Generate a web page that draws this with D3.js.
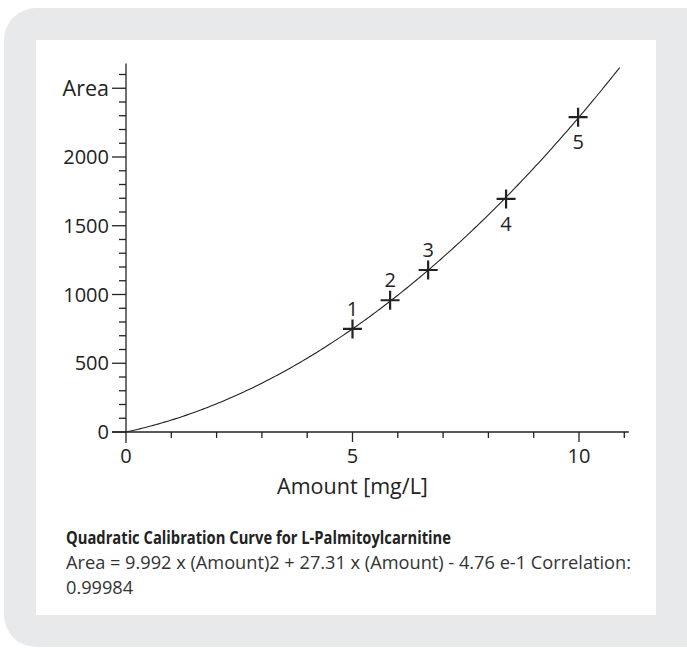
<!DOCTYPE html>
<html>
<head>
<meta charset="utf-8">
<script src="https://cdn.jsdelivr.net/npm/d3@7"></script>
<style>
  html, body { margin: 0; padding: 0; background: #fff; }
  svg { display: block; font-family: "Open Sans", "Noto Sans", sans-serif; }
</style>
</head>
<body>
<div id="root"></div>
<script>
// calibration points
const pointIds = ["1", "2", "3", "4", "5"];
const amounts = [5.0, 5.83, 6.67, 8.39, 9.98];
const areas = [750, 958, 1178, 1695, 2290];
const labelBelow = [false, false, false, true, true];
// fitted quadratic shown as the curve: a*x^2 + b*x + c
const fitCoef = [15.8, 71, 0];
const xTickLabels = [0, 5, 10];
const yTickLabels = [0, 500, 1000, 1500, 2000];

const W = 687, H = 648;
const svg = d3.select("#root").append("svg").attr("width", W).attr("height", H);

// outer grey card and inner white panel
svg.append("rect").attr("x", 4).attr("y", 8).attr("width", W + 30).attr("height", 639)
  .attr("rx", 32).attr("fill", "#e8e9eb");
svg.append("rect").attr("x", 36).attr("y", 40).attr("width", 620).attr("height", 575)
  .attr("fill", "#fff");

const x0 = 126, y0 = 432;
const x = d3.scaleLinear().domain([0, 11.1]).range([x0, x0 + 11.1 * 45.3]);
const y = d3.scaleLinear().domain([0, 2680]).range([y0, y0 - 2680 * 0.1375]);

const ink = "#222";
const fs = 20;
const g = svg.append("g");

// x axis: line + ticks every unit pointing down
g.append("line").attr("x1", x0 - 14).attr("x2", x(11.1)).attr("y1", y0).attr("y2", y0)
  .attr("stroke", ink).attr("stroke-width", 1.3);
d3.range(1, 12).forEach(v => {
  const major = v % 5 === 0;
  g.append("line").attr("x1", x(v)).attr("x2", x(v)).attr("y1", y0).attr("y2", y0 + (major ? 10 : 6))
    .attr("stroke", ink).attr("stroke-width", 1.3);
});
g.selectAll(".xl").data(xTickLabels).enter().append("text")
  .attr("x", d => x(d)).attr("y", y0 + 31).attr("text-anchor", "middle")
  .attr("font-size", fs).attr("fill", ink).text(d => d);
g.append("text").attr("x", x(5)).attr("y", 494).attr("text-anchor", "middle")
  .attr("font-size", 21.5).attr("fill", ink).text("Amount [mg/L]");

// y axis: line + ticks every 100 pointing left
g.append("line").attr("x1", x0).attr("x2", x0).attr("y1", y0 + 11).attr("y2", y(2680))
  .attr("stroke", ink).attr("stroke-width", 1.3);
d3.range(0, 2700, 100).forEach(v => {
  const major = v % 500 === 0;
  g.append("line").attr("x1", x0 - (major ? 14 : 7)).attr("x2", x0).attr("y1", y(v)).attr("y2", y(v))
    .attr("stroke", ink).attr("stroke-width", 1.3);
});
g.selectAll(".yl").data(yTickLabels).enter().append("text")
  .attr("x", 109).attr("y", d => y(d)).attr("dy", "0.36em").attr("text-anchor", "end")
  .attr("font-size", fs).attr("fill", ink).text(d => d);
g.append("text").attr("x", 109).attr("y", y(2500)).attr("dy", "0.36em").attr("text-anchor", "end")
  .attr("font-size", 21.5).attr("fill", ink).text("Area");

// fit curve
const f = v => fitCoef[0] * v * v + fitCoef[1] * v + fitCoef[2];
const curve = d3.range(0, 10.93, 0.05).map(v => [v, f(v)]);
g.append("path").datum(curve)
  .attr("d", d3.line().x(d => x(d[0])).y(d => y(d[1])))
  .attr("fill", "none").attr("stroke", ink).attr("stroke-width", 1.1);

// point markers (crosses) + labels
const pts = pointIds.map((id, i) => ({ id, a: amounts[i], v: areas[i], below: labelBelow[i] }));
const pg = g.selectAll(".pt").data(pts).enter().append("g")
  .attr("transform", d => `translate(${x(d.a)},${y(d.v)})`);
pg.append("path").attr("d", "M-9.5,0H9.5M0,-9.5V9.5").attr("stroke", ink).attr("stroke-width", 2.2);
pg.append("text").attr("text-anchor", "middle").attr("font-size", fs).attr("fill", ink)
  .attr("y", d => d.below ? 32 : -13).text(d => d.id);

// caption
const cap = svg.append("g").attr("fill", "#333");
cap.append("text").attr("x", 66).attr("y", 544).attr("font-size", 17.5).attr("font-weight", "bold")
  .attr("fill", "#222").attr("textLength", 385).attr("lengthAdjust", "spacingAndGlyphs")
  .text("Quadratic Calibration Curve for L-Palmitoylcarnitine");
cap.append("text").attr("x", 66).attr("y", 569).attr("font-size", 18.2)
  .text("Area = 9.992 x (Amount)2 + 27.31 x (Amount) - 4.76 e-1 Correlation:");
cap.append("text").attr("x", 66).attr("y", 594).attr("font-size", 18.2).text("0.99984");
</script>
</body>
</html>
